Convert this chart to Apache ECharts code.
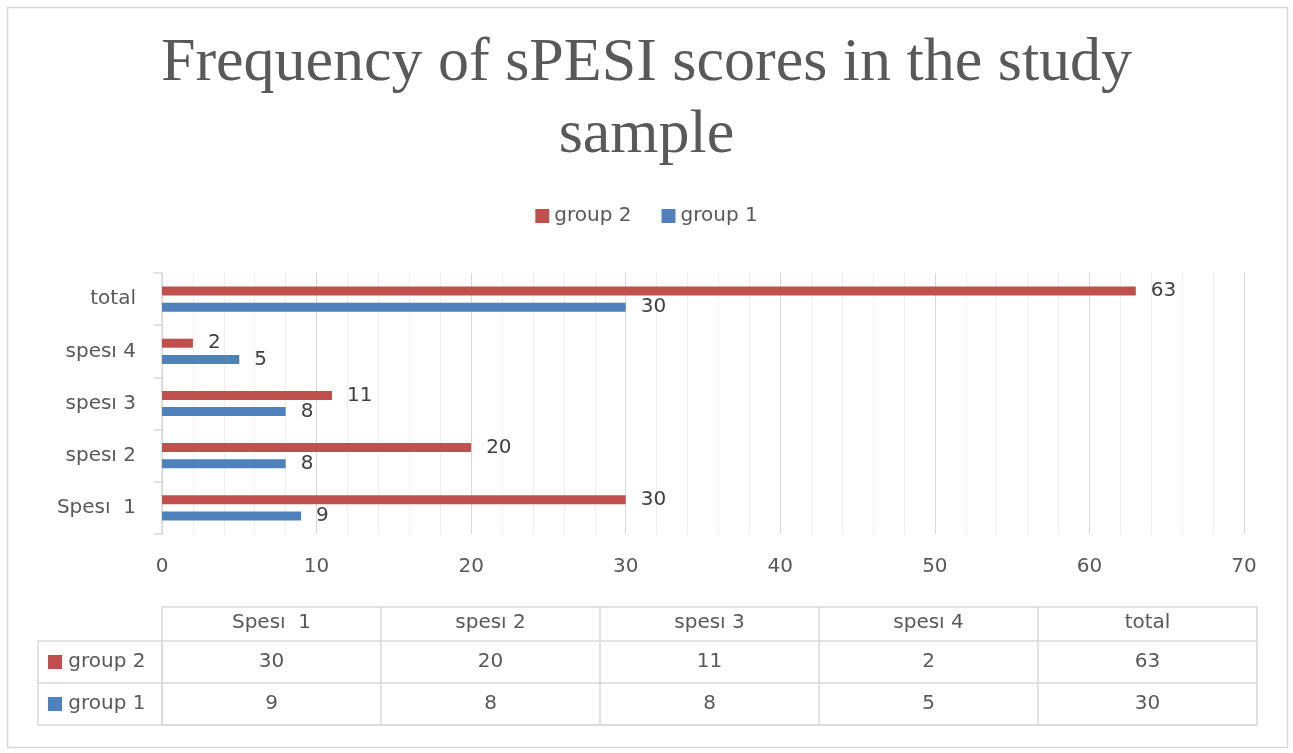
<!DOCTYPE html>
<html>
<head>
<meta charset="utf-8">
<script src="https://cdn.jsdelivr.net/npm/echarts@6/dist/echarts.min.js"></script>
<style>
html,body{margin:0;padding:0;background:#fff;}
#chart{width:1293px;height:753px;}
</style>
</head>
<body>
<div id="chart"></div>
<script>
// ---- data ----
var titleText = 'Frequency of sPESI scores in the study\nsample';
var categories = ['Spesı  1', 'spesı 2', 'spesı 3', 'spesı 4', 'total'];
var group2 = [30, 20, 11, 2, 63];
var group1 = [9, 8, 8, 5, 30];
var seriesNames = ['group 2', 'group 1'];
var xTicks = [0, 10, 20, 30, 40, 50, 60, 70];
var tableRows = ['group 1', 'group 2']; // bottom to top

var RED = '#c0504d', BLUE = '#4f81bd', TXT = '#595959', GRID = '#d9d9d9';
var FONT = '"DejaVu Sans", sans-serif';
var FS = 20;

var chart = echarts.init(document.getElementById('chart'), null, {renderer: 'canvas'});

var tableData = [];
group2.forEach(function (v, i) { tableData.push([i, 1, v]); });
group1.forEach(function (v, i) { tableData.push([i, 0, v]); });

var option = {
  backgroundColor: '#fff',
  animation: false,
  textStyle: {fontFamily: FONT},
  graphic: [{
    type: 'rect', silent: true,
    shape: {x: 7.5, y: 7.5, width: 1280, height: 740},
    style: {fill: 'none', stroke: '#d9d9d9', lineWidth: 1.5}
  }],
  title: {
    text: titleText,
    left: 'center', top: 23,
    textStyle: {fontFamily: '"Liberation Serif", serif', fontSize: 62, fontWeight: 'normal', color: TXT, lineHeight: 72}
  },
  legend: {
    data: seriesNames,
    top: 201, left: 'center',
    icon: 'rect', itemWidth: 14, itemHeight: 14, itemGap: 30,
    textStyle: {fontFamily: FONT, fontSize: FS, color: TXT}
  },
  grid: [
    {left: 162, right: 49, top: 273, height: 261, containLabel: false},
    {left: 162, right: 36, top: 607, height: 34, containLabel: false},
    {left: 162, right: 36, top: 641, height: 84, containLabel: false}
  ],
  xAxis: [
    {
      gridIndex: 0, type: 'value', min: xTicks[0], max: xTicks[xTicks.length - 1], interval: 10,
      axisLine: {show: false}, axisTick: {show: false},
      axisLabel: {fontFamily: FONT, fontSize: FS, color: TXT, margin: 23},
      splitLine: {show: true, lineStyle: {color: GRID, width: 1}},
      minorTick: {show: false, splitNumber: 5},
      minorSplitLine: {show: true, lineStyle: {color: '#efefef', width: 1}}
    },
    {
      gridIndex: 1, type: 'category', data: categories, position: 'top',
      axisLine: {show: true, lineStyle: {color: GRID, width: 1.5}},
      axisTick: {show: false},
      axisLabel: {inside: true, margin: 6, fontFamily: FONT, fontSize: FS, color: TXT},
      splitLine: {show: true, showMinLine: true, showMaxLine: true, lineStyle: {color: GRID, width: 1.5}}
    },
    {
      gridIndex: 2, type: 'category', data: categories,
      axisLine: {show: true, lineStyle: {color: GRID, width: 1.5}},
      axisTick: {show: false}, axisLabel: {show: false},
      splitLine: {show: true, showMinLine: true, showMaxLine: true, lineStyle: {color: GRID, width: 1.5}}
    }
  ],
  yAxis: [
    {
      gridIndex: 0, type: 'category', data: categories,
      axisLine: {show: true, lineStyle: {color: GRID, width: 1.5}},
      axisTick: {show: true, length: 8, lineStyle: {color: GRID, width: 1.5}},
      axisLabel: {fontFamily: FONT, fontSize: FS, color: TXT, margin: 26},
      splitLine: {show: false}
    },
    {
      gridIndex: 1, type: 'category', data: [''],
      axisLine: {show: false}, axisTick: {show: false}, axisLabel: {show: false},
      splitLine: {show: false}
    },
    {
      gridIndex: 2, type: 'category', data: tableRows,
      axisLine: {show: true, lineStyle: {color: GRID, width: 1.5}},
      axisTick: {show: true, length: 124, lineStyle: {color: GRID, width: 1.5}},
      axisLabel: {
        align: 'left', margin: 114, fontFamily: FONT, fontSize: FS, color: TXT,
        formatter: function (v) { return (v === 'group 2' ? '{r|}' : '{b|}') + ' ' + v; },
        rich: {
          r: {backgroundColor: RED, width: 14, height: 14},
          b: {backgroundColor: BLUE, width: 14, height: 14}
        }
      },
      splitLine: {show: true, showMinLine: true, showMaxLine: true, lineStyle: {color: GRID, width: 1.5}}
    },
    {
      gridIndex: 2, type: 'category', data: tableRows, position: 'left', offset: 124,
      axisLine: {show: true, lineStyle: {color: GRID, width: 1.5}},
      axisTick: {show: false}, axisLabel: {show: false}, splitLine: {show: false}
    }
  ],
  series: [
    {
      name: seriesNames[0], type: 'bar', xAxisIndex: 0, yAxisIndex: 0,
      data: group2, barWidth: 9, barGap: '80%',
      itemStyle: {color: RED},
      label: {show: true, position: 'right', distance: 15, fontFamily: FONT, fontSize: FS, color: '#404040'}
    },
    {
      name: seriesNames[1], type: 'bar', xAxisIndex: 0, yAxisIndex: 0,
      data: group1, barWidth: 9, barGap: '80%',
      itemStyle: {color: BLUE},
      label: {show: true, position: 'right', distance: 15, fontFamily: FONT, fontSize: FS, color: '#404040'}
    },
    {
      type: 'scatter', xAxisIndex: 2, yAxisIndex: 2,
      data: tableData, symbol: 'rect', symbolSize: 1,
      itemStyle: {color: '#ffffff'}, silent: true,
      label: {
        show: true, position: 'inside', fontFamily: FONT, fontSize: FS, color: TXT, opacity: 1,
        formatter: function (p) { return String(p.value[2]); }
      }
    }
  ]
};
chart.setOption(option);
</script>
</body>
</html>
